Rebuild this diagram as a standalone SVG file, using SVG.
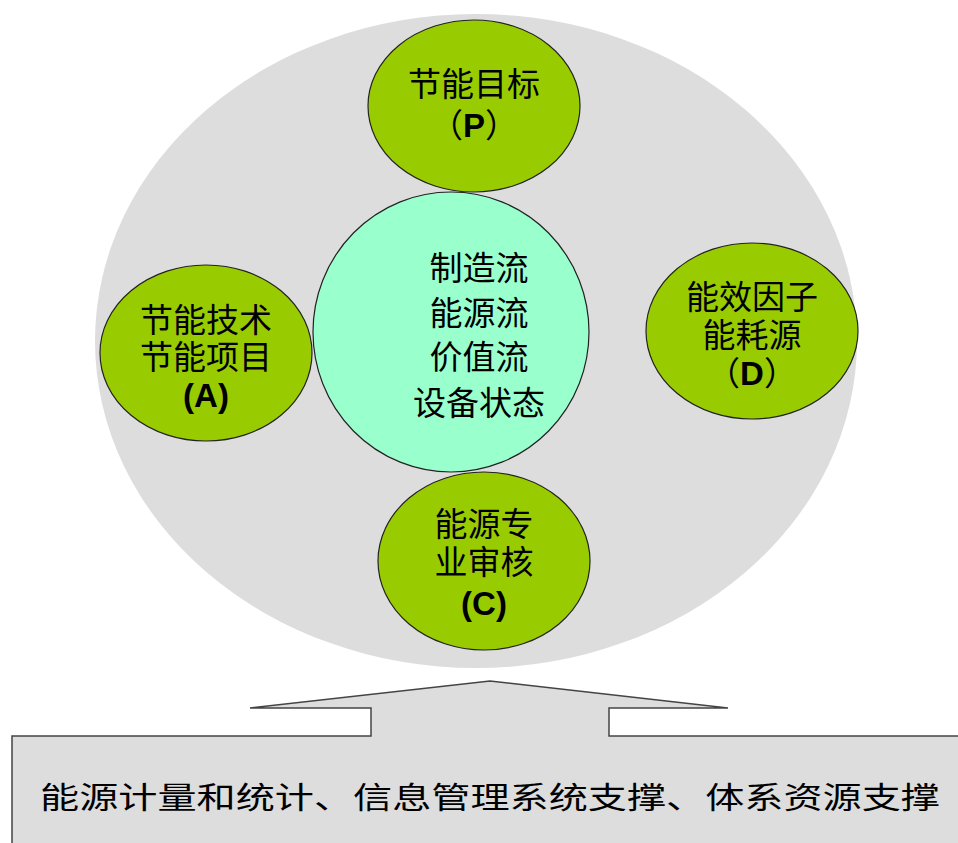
<svg xmlns="http://www.w3.org/2000/svg" width="958" height="843" viewBox="0 0 958 843">
<style>
.bg{fill:#dddddd;stroke:none}
.g{fill:#99cc00;stroke:#222222;stroke-width:1.2}
.c{fill:#99ffcc;stroke:#222222;stroke-width:1.2}
.t{font-family:"Noto Sans CJK SC","Liberation Sans",sans-serif;font-size:33px;fill:#000;text-anchor:middle}
.b{font-family:"Liberation Sans",Arial,sans-serif;font-weight:bold}
.box{fill:#dddddd;stroke:#444444;stroke-width:1.5}
</style>
<rect width="958" height="843" fill="#ffffff"/>
<g id="outer"><ellipse class="bg" cx="476" cy="341" rx="381" ry="327"/></g>
<g id="connectors">
<path class="box" d="M12,843 L12,736 L371,736 L371,708 L250,708 L490,681 L728,708 L609,708 L609,736 L960,736 L960,843"/>
</g>
<g id="nodeP"><ellipse class="g" cx="474" cy="106" rx="106" ry="86"/>
<text class="t" x="474" y="96">节能目标</text>
<text class="t" x="474" y="137">（<tspan class="b">P</tspan>）</text></g>
<g id="nodeA"><ellipse class="g" cx="206" cy="353" rx="106" ry="88"/>
<text class="t" x="206" y="332">节能技术</text>
<text class="t" x="206" y="369">节能项目</text>
<text class="t b" x="206" y="407">(A)</text></g>
<g id="nodeD"><ellipse class="g" cx="752" cy="331" rx="106" ry="88"/>
<text class="t" x="752" y="309">能效因子</text>
<text class="t" x="752" y="347">能耗源</text>
<text class="t" x="752" y="385">（<tspan class="b">D</tspan>）</text></g>
<g id="nodeC"><ellipse class="g" cx="484" cy="561" rx="106" ry="89"/>
<text class="t" x="484" y="536">能源专</text>
<text class="t" x="484" y="574">业审核</text>
<text class="t b" x="484" y="615">(C)</text></g>
<g id="center"><ellipse class="c" cx="451" cy="332" rx="138" ry="140"/>
<text class="t" x="479" y="280">制造流</text>
<text class="t" x="479" y="325">能源流</text>
<text class="t" x="479" y="369">价值流</text>
<text class="t" x="479" y="415">设备状态</text></g>
<g id="bottom">
<text class="t" x="490" y="808" style="font-size:30px" textLength="900" lengthAdjust="spacingAndGlyphs">能源计量和统计、信息管理系统支撑、体系资源支撑</text>
</g>
</svg>
